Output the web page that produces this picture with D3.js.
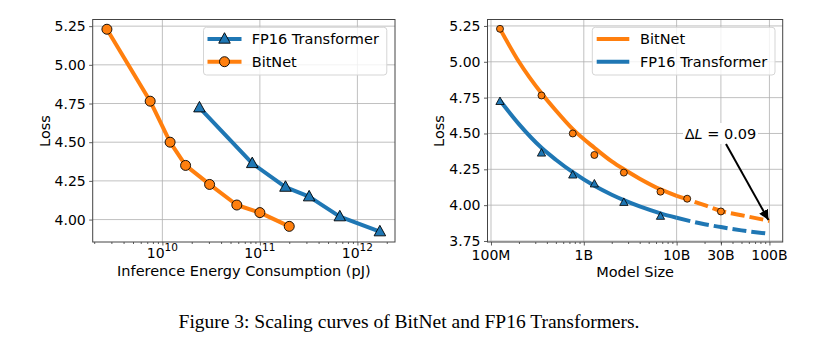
<!DOCTYPE html>
<html>
<head>
<meta charset="utf-8">
<script src="https://d3js.org/d3.v7.min.js"></script>
<style>
  body { margin: 0; background: #fff; }
  text { font-family: "DejaVu Sans", sans-serif; fill: #000; }
  .caption { font-family: "Liberation Serif", "Times New Roman", serif; }
</style>
</head>
<body>
<svg id="fig" width="823" height="352"></svg>
<script>
// ---- data ----
const bitnetEnergy = [2.7e9, 7.5e9, 1.2e10, 1.73e10, 3.05e10, 5.8e10, 1.0e11, 2.0e11];
const bitnetLoss = [5.23, 4.765, 4.50, 4.35, 4.227, 4.094, 4.045, 3.956];
const fp16Energy = [2.4e10, 8.35e10, 1.83e11, 3.2e11, 6.6e11, 1.7e12];
const fp16Loss = [4.723, 4.363, 4.21, 4.148, 4.019, 3.922];

const bitnetSize = [1.25e8, 3.5e8, 7.6e8, 1.3e9, 2.7e9, 6.7e9, 1.3e10, 3.0e10];
const fp16Size = [1.25e8, 3.5e8, 7.6e8, 1.3e9, 2.7e9, 6.7e9];

// fitted curves (solid part) and extrapolation (dashed part)
const fitSize = [1.25e8, 2e8, 3.5e8, 5e8, 7.6e8, 1.3e9, 2e9, 2.7e9, 4e9, 6.7e9, 1e10];
const bitnetFit = [5.23, 5.00, 4.78, 4.66, 4.53, 4.40, 4.305, 4.25, 4.185, 4.11, 4.065];
const fp16Fit = [4.73, 4.565, 4.40, 4.317, 4.23, 4.135, 4.073, 4.035, 3.991, 3.943, 3.912];
const extrapSize = [1e10, 2e10, 3e10, 5e10, 1e11];
const bitnetExtrap = [4.065, 4.00, 3.96, 3.93, 3.89];
const fp16Extrap = [3.912, 3.867, 3.847, 3.824, 3.80];

const lossTicksLeft = [4.00, 4.25, 4.50, 4.75, 5.00, 5.25];
const lossTicksRight = [3.75, 4.00, 4.25, 4.50, 4.75, 5.00, 5.25];
const energyTicks = [1e10, 1e11, 1e12];
const energyExp = ["10", "11", "12"];
const sizeTicks = [1e8, 1e9, 1e10, 3e10, 1e11];
const sizeLabels = ["100M", "1B", "10B", "30B", "100B"];

const blue = "#1f77b4", orange = "#ff7f0e";
const svg = d3.select("#fig");

const axTop = 19.5, axBottom = 242;

function minorTicks(domain) {
  const out = [];
  const lo = Math.floor(Math.log10(domain[0])), hi = Math.ceil(Math.log10(domain[1]));
  for (let e = lo; e <= hi; e++) {
    for (let k = 2; k <= 9; k++) {
      const v = k * Math.pow(10, e);
      if (v >= domain[0] && v <= domain[1]) out.push(v);
    }
  }
  return out;
}

function panel(left, right, xDomain, yDomain, yTicks, xTicks) {
  const x = d3.scaleLog().domain(xDomain).range([left, right]);
  const y = d3.scaleLinear().domain(yDomain).range([axBottom, axTop]);
  const g = svg.append("g");

  // grid
  g.selectAll(".gx").data(xTicks).join("line")
    .attr("x1", d => x(d)).attr("x2", d => x(d))
    .attr("y1", axTop).attr("y2", axBottom)
    .attr("stroke", "#b0b0b0").attr("stroke-width", 0.8);
  g.selectAll(".gy").data(yTicks).join("line")
    .attr("x1", left).attr("x2", right)
    .attr("y1", d => y(d)).attr("y2", d => y(d))
    .attr("stroke", "#b0b0b0").attr("stroke-width", 0.8);

  // axes
  g.append("g").attr("transform", `translate(0,${axBottom})`)
    .call(d3.axisBottom(x).tickValues(xTicks).tickSize(3.5).tickFormat(""))
    .call(a => a.select(".domain").remove());
  g.append("g").attr("transform", `translate(0,${axBottom})`)
    .call(d3.axisBottom(x).tickValues(minorTicks(xDomain)).tickSize(2).tickFormat(""))
    .call(a => a.select(".domain").remove());
  g.append("g").attr("transform", `translate(${left},0)`)
    .call(d3.axisLeft(y).tickValues(yTicks).tickSize(3.5).tickPadding(3.5).tickFormat(d3.format(".2f")))
    .call(a => a.select(".domain").remove())
    .call(a => a.selectAll("text").attr("font-size", 14).attr("font-family", "DejaVu Sans").attr("fill", "#000"));
  g.selectAll(".tick line").attr("stroke", "#333").attr("stroke-width", 0.8);

  return { x, y, g, left, right };
}

function frame(p) {
  svg.append("rect").attr("x", p.left).attr("y", axTop)
    .attr("width", p.right - p.left).attr("height", axBottom - axTop)
    .attr("fill", "none").attr("stroke", "#444").attr("stroke-width", 1);
}

function triangle(s) {
  return `M0,${-s * 0.6}L${s * 0.55},${s * 0.4}L${-s * 0.55},${s * 0.4}Z`;
}

// ---------------- left panel ----------------
const L = panel(92.7, 395, [1.93e9, 2.43e12], [3.855, 5.293], lossTicksLeft, energyTicks);

const lineL = d3.line().x(d => L.x(d[0])).y(d => L.y(d[1]));
const fpL = d3.zip(fp16Energy, fp16Loss), bnL = d3.zip(bitnetEnergy, bitnetLoss);

L.g.append("path").attr("d", lineL(fpL)).attr("fill", "none")
  .attr("stroke", blue).attr("stroke-width", 4).attr("stroke-linejoin", "round");
L.g.selectAll(".tri").data(fpL).join("path")
  .attr("transform", d => `translate(${L.x(d[0])},${L.y(d[1])})`)
  .attr("d", triangle(10.5)).attr("fill", blue).attr("stroke", "#000").attr("stroke-width", 0.9);

L.g.append("path").attr("d", lineL(bnL)).attr("fill", "none")
  .attr("stroke", orange).attr("stroke-width", 4).attr("stroke-linejoin", "round");
L.g.selectAll(".dot").data(bnL).join("circle")
  .attr("cx", d => L.x(d[0])).attr("cy", d => L.y(d[1])).attr("r", 5)
  .attr("fill", orange).attr("stroke", "#000").attr("stroke-width", 0.9);

energyTicks.forEach((t, i) => {
  const tx = L.g.append("text").attr("x", L.x(t)).attr("y", 258)
    .attr("text-anchor", "middle").attr("font-size", 14);
  tx.append("tspan").text("10");
  tx.append("tspan").attr("dy", -7.5).attr("font-size", 10.5).text(energyExp[i]);
});
frame(L);

L.g.append("text").attr("x", (L.left + L.right) / 2).attr("y", 275.5)
  .attr("text-anchor", "middle").attr("font-size", 14.5)
  .text("Inference Energy Consumption (pJ)");
L.g.append("text").attr("transform", `translate(50,131) rotate(-90)`)
  .attr("text-anchor", "middle").attr("font-size", 14.5).text("Loss");

// legend left
const legL = svg.append("g");
legL.append("rect").attr("x", 203.5).attr("y", 27.3).attr("width", 183.3).attr("height", 47.7)
  .attr("rx", 3).attr("fill", "#fff").attr("fill-opacity", 0.8)
  .attr("stroke", "#d5d5d5").attr("stroke-width", 1);
[[blue, "FP16 Transformer", 39, "tri"], [orange, "BitNet", 61.7, "dot"]].forEach(([c, name, yy, m]) => {
  legL.append("line").attr("x1", 207.5).attr("x2", 241.5).attr("y1", yy).attr("y2", yy)
    .attr("stroke", c).attr("stroke-width", 4);
  if (m === "tri") {
    legL.append("path").attr("transform", `translate(224.5,${yy})`).attr("d", triangle(10.5))
      .attr("fill", c).attr("stroke", "#000").attr("stroke-width", 0.9);
  } else {
    legL.append("circle").attr("cx", 224.5).attr("cy", yy).attr("r", 5)
      .attr("fill", c).attr("stroke", "#000").attr("stroke-width", 0.9);
  }
  legL.append("text").attr("x", 251.7).attr("y", yy).attr("dominant-baseline", "central")
    .attr("font-size", 14.5).text(name);
});

// ---------------- right panel ----------------
const R = panel(487.5, 782.7, [9.17e7, 1.39e11], [3.743, 5.295], lossTicksRight, sizeTicks);

const lineR = d3.line().x(d => R.x(d[0])).y(d => R.y(d[1])).curve(d3.curveMonotoneX);

R.g.append("path").attr("d", lineR(d3.zip(fitSize, bitnetFit))).attr("fill", "none")
  .attr("stroke", orange).attr("stroke-width", 4);
R.g.append("path").attr("d", lineR(d3.zip(extrapSize, bitnetExtrap))).attr("fill", "none")
  .attr("stroke", orange).attr("stroke-width", 4).attr("stroke-dasharray", "14,5");
R.g.append("path").attr("d", lineR(d3.zip(fitSize, fp16Fit))).attr("fill", "none")
  .attr("stroke", blue).attr("stroke-width", 4);
R.g.append("path").attr("d", lineR(d3.zip(extrapSize, fp16Extrap))).attr("fill", "none")
  .attr("stroke", blue).attr("stroke-width", 4).attr("stroke-dasharray", "14,5");

R.g.selectAll(".dot").data(d3.zip(bitnetSize, bitnetLoss)).join("circle")
  .attr("cx", d => R.x(d[0])).attr("cy", d => R.y(d[1])).attr("r", 3.5)
  .attr("fill", orange).attr("stroke", "#000").attr("stroke-width", 0.8);
R.g.selectAll(".tri").data(d3.zip(fp16Size, fp16Loss)).join("path")
  .attr("transform", d => `translate(${R.x(d[0])},${R.y(d[1])})`)
  .attr("d", triangle(7.5)).attr("fill", blue).attr("stroke", "#000").attr("stroke-width", 0.8);

sizeTicks.forEach((t, i) => {
  R.g.append("text").attr("x", R.x(t)).attr("y", 260)
    .attr("text-anchor", "middle").attr("font-size", 14).text(sizeLabels[i]);
});
frame(R);

R.g.append("text").attr("x", (R.left + R.right) / 2).attr("y", 277)
  .attr("text-anchor", "middle").attr("font-size", 14.5).text("Model Size");
R.g.append("text").attr("transform", `translate(444,131) rotate(-90)`)
  .attr("text-anchor", "middle").attr("font-size", 14.5).text("Loss");

// annotation
svg.append("defs").append("marker").attr("id", "ah")
  .attr("viewBox", "0 0 10 10").attr("refX", 10).attr("refY", 5)
  .attr("markerWidth", 5).attr("markerHeight", 5).attr("orient", "auto")
  .append("path").attr("d", "M0,0L10,5L0,10Z").attr("fill", "#000");
const ann = svg.append("g");
ann.append("rect").attr("x", 683).attr("y", 123).attr("width", 75).attr("height", 21).attr("fill", "#fff");
const at = ann.append("text").attr("x", 720.5).attr("y", 133.5).attr("text-anchor", "middle")
  .attr("dominant-baseline", "central").attr("font-size", 14.5);
at.append("tspan").text("Δ");
at.append("tspan").attr("font-style", "italic").text("L");
at.append("tspan").text(" = 0.09");
ann.append("line").attr("x1", 726).attr("y1", 144).attr("x2", R.x(1e11) - 1).attr("y2", R.y(bitnetExtrap[4]) - 1)
  .attr("stroke", "#000").attr("stroke-width", 2).attr("marker-end", "url(#ah)");

// legend right
const legR = svg.append("g");
legR.append("rect").attr("x", 592.3).attr("y", 27.3).attr("width", 182.7).attr("height", 47.7)
  .attr("rx", 3).attr("fill", "#fff").attr("fill-opacity", 0.8)
  .attr("stroke", "#d5d5d5").attr("stroke-width", 1);
[[orange, "BitNet", 39], [blue, "FP16 Transformer", 61.7]].forEach(([c, name, yy]) => {
  legR.append("line").attr("x1", 596.7).attr("x2", 629.3).attr("y1", yy).attr("y2", yy)
    .attr("stroke", c).attr("stroke-width", 4);
  legR.append("text").attr("x", 640).attr("y", yy).attr("dominant-baseline", "central")
    .attr("font-size", 14.5).text(name);
});

// caption
svg.append("text").attr("class", "caption").attr("x", 409).attr("y", 327.5)
  .attr("text-anchor", "middle").attr("font-size", 19.5)
  .text("Figure 3: Scaling curves of BitNet and FP16 Transformers.");
</script>
</body>
</html>
